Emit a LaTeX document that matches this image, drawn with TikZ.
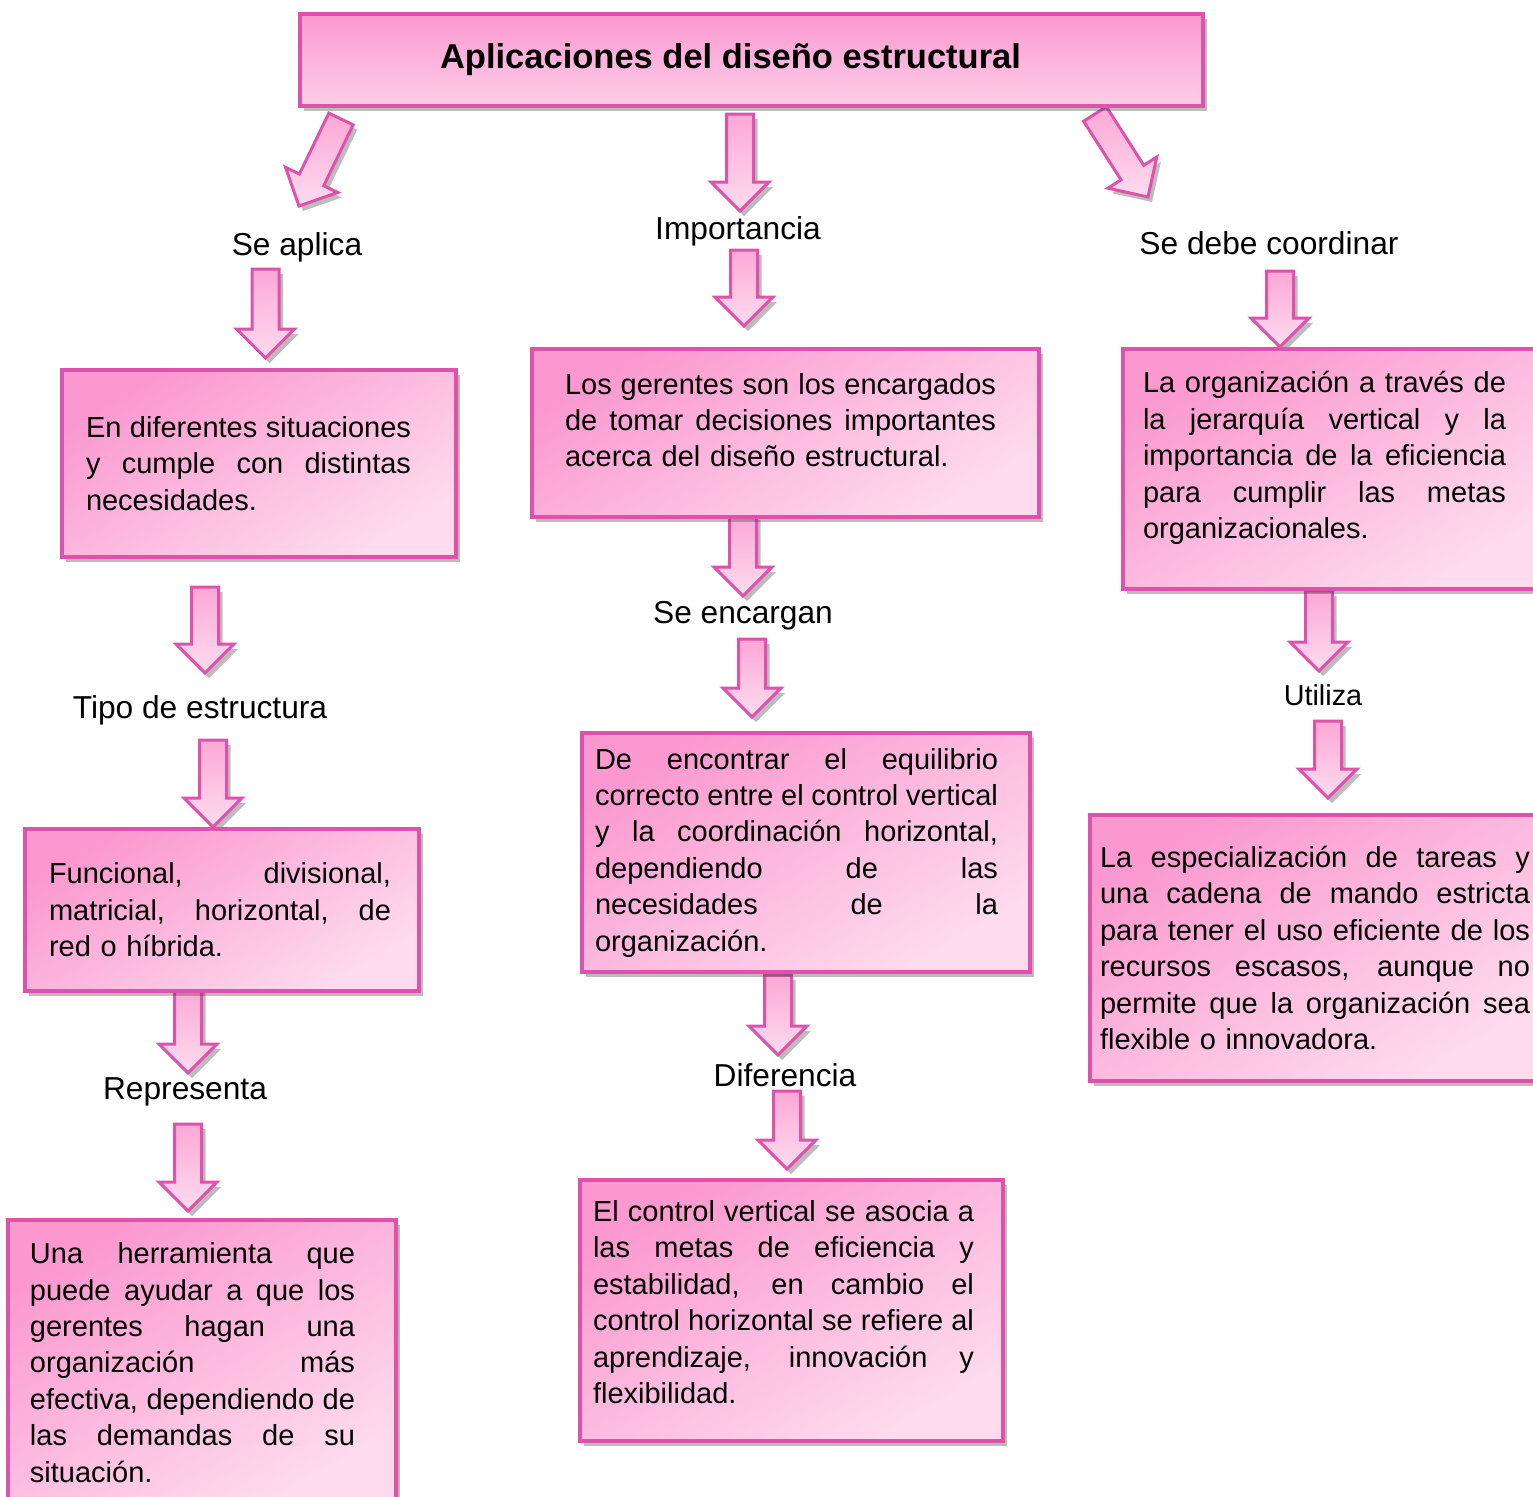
\documentclass[tikz,border=0pt]{standalone}
\usepackage{fontspec}
\setmainfont{Liberation Sans}
\usetikzlibrary{calc,shadows}
\definecolor{pinkA}{HTML}{FB98CF}
\definecolor{pinkB}{HTML}{FEDCEE}
\definecolor{bord}{HTML}{DE52AC}
\newcommand{\jl}[2]{\makebox[#1][s]{\spaceskip=0pt\xspaceskip=0pt\relax #2}\\}
\newcommand{\dpt}[1]{\rule[-#1]{0pt}{0pt}}
\newcommand{\barrow}[2]{%
  \coordinate (bB) at ($(#2)!14.5pt!(#1)$);
  \path[blockarrow] ($(#1)!6.75pt!90:(#2)$) -- ($(bB)!6.75pt!90:(#2)$) -- ($(bB)!14.5pt!90:(#2)$) -- (#2) -- ($(bB)!14.5pt!-90:(#2)$) -- ($(bB)!6.75pt!-90:(#2)$) -- ($(#1)!6.75pt!-90:(#2)$) -- cycle;}
\begin{document}
\begin{tikzpicture}[x=0.5pt,y=-0.5pt,
  shadowed/.style={drop shadow={shadow xshift=2pt,shadow yshift=-2.5pt,opacity=0.35,fill=black!75}},
  box/.style={rectangle,draw=bord,line width=1.75pt,top color=pinkA,bottom color=pinkB,shading angle=30,shadowed,
    inner ysep=0pt,align=left,font=\fontsize{14.5pt}{18.2pt}\selectfont},
  blockarrow/.style={draw=bord,line width=1.5pt,line join=miter,top color=pinkA!85!white,bottom color=pinkB,shadowed},
  lbl/.style={inner sep=0pt,font=\fontsize{15.85pt}{19pt}\selectfont},
  titlebox/.style={rectangle,draw=bord,line width=2pt,top color=pinkA,bottom color=pinkB!80!pinkA,shadowed,
    font=\bfseries\fontsize{17.25pt}{20pt}\selectfont}]
\useasboundingbox (0,0) rectangle (1533,1496);

% arrows (drawn first, under boxes)
\coordinate (a1s) at (341,119);   \coordinate (a1e) at (299,206);
\coordinate (a2s) at (740,114);   \coordinate (a2e) at (740,211);
\coordinate (a3s) at (1095,114);  \coordinate (a3e) at (1148,197);
\coordinate (a4s) at (265.5,269); \coordinate (a4e) at (265.5,358);
\coordinate (a5s) at (744,250);   \coordinate (a5e) at (744,326);
\coordinate (a6s) at (1280,271);  \coordinate (a6e) at (1280,347);
\coordinate (a7s) at (205,587);   \coordinate (a7e) at (205,673);
\coordinate (a8s) at (213,740);   \coordinate (a8e) at (213,827);
\coordinate (a9s) at (188,985);   \coordinate (a9e) at (188,1073);
\coordinate (a10s) at (188,1124); \coordinate (a10e) at (188,1211);
\coordinate (a11s) at (743,515);  \coordinate (a11e) at (743,596);
\coordinate (a12s) at (752,639);  \coordinate (a12e) at (752,717);
\coordinate (a13s) at (778,975);  \coordinate (a13e) at (778,1055);
\coordinate (a14s) at (787,1091); \coordinate (a14e) at (787,1169);
\coordinate (a15s) at (1319,591); \coordinate (a15e) at (1319,671);
\coordinate (a16s) at (1328,721); \coordinate (a16e) at (1328,798);
\barrow{a1s}{a1e}\barrow{a2s}{a2e}\barrow{a3s}{a3e}\barrow{a4s}{a4e}
\barrow{a5s}{a5e}\barrow{a6s}{a6e}\barrow{a7s}{a7e}\barrow{a8s}{a8e}
\barrow{a9s}{a9e}\barrow{a10s}{a10e}\barrow{a11s}{a11e}\barrow{a12s}{a12e}
\barrow{a13s}{a13e}\barrow{a14s}{a14e}\barrow{a15s}{a15e}\barrow{a16s}{a16e}

% title
\node[titlebox,minimum width=451.5pt,minimum height=46pt] (title) at (751.5,60)
  {Aplicaciones del diseño estructural\kern21pt};

% boxes
\node[box,minimum width=197pt,minimum height=93.5pt,text width=173pt,inner xsep=12pt] (bA) at (259,463.5)
  {\jl{162.5pt}{En diferentes situaciones}\jl{162.5pt}{y cumple con distintas}necesidades.};

\node[box,minimum width=253.5pt,minimum height=84pt,text width=220.5pt,inner xsep=16.5pt] (bB) at (785.5,433)
  {\jl{215.5pt}{Los gerentes son los encargados}\jl{215.5pt}{de tomar decisiones importantes}acerca del diseño estructural.\dpt{13pt}};

\node[box,minimum width=211pt,minimum height=120pt,text width=191pt,inner xsep=10pt] (bC) at (1334,469)
  {\jl{181.5pt}{La organización a través de}\jl{181.5pt}{la jerarquía vertical y la}\jl{181.5pt}{importancia de la eficiencia}\jl{181.5pt}{para cumplir las metas}organizacionales.\dpt{14pt}};

\node[box,minimum width=197pt,minimum height=81pt,text width=173pt,inner xsep=12pt] (bD) at (222,910)
  {\jl{171pt}{Funcional, divisional,}\jl{171pt}{matricial, horizontal, de}red o híbrida.};

\node[box,minimum width=224pt,minimum height=119.5pt,text width=211pt,inner xsep=6.5pt] (bE) at (806,852.5)
  {\jl{201.5pt}{De encontrar el equilibrio}\jl{201.5pt}{correcto entre el control vertical}\jl{201.5pt}{y la coordinación horizontal,}\jl{201.5pt}{dependiendo de las}\jl{201.5pt}{necesidades de la}organización.};

\node[box,minimum width=227.5pt,minimum height=133pt,text width=217.5pt,inner xsep=5pt] (bF) at (1317.5,948)
  {\jl{215pt}{La especialización de tareas y}\jl{215pt}{una cadena de mando estricta}\jl{215pt}{para tener el uso eficiente de los}\jl{215pt}{recursos escasos, aunque no}\jl{215pt}{permite que la organización sea}flexible o innovadora.};

\node[box,minimum width=194pt,minimum height=142.5pt,text width=172pt,inner xsep=11pt] (bG) at (202,1362.5)
  {\jl{162.5pt}{Una herramienta que}\jl{162.5pt}{puede ayudar a que los}\jl{162.5pt}{gerentes hagan una}\jl{162.5pt}{organización más}\jl{162.5pt}{efectiva, dependiendo de}\jl{162.5pt}{las demandas de su}situación.};

\node[box,minimum width=211.5pt,minimum height=130.5pt,text width=198.5pt,inner xsep=6.5pt] (bH) at (791.5,1310.5)
  {\jl{190.5pt}{El control vertical se asocia a}\jl{190.5pt}{las metas de eficiencia y}\jl{190.5pt}{estabilidad, en cambio el}\jl{190.5pt}{control horizontal se refiere al}\jl{190.5pt}{aprendizaje, innovación y}flexibilidad.\dpt{8.5pt}};

% labels
\node[lbl] (l1) at (297,247) {Se aplica};
\node[lbl] (l2) at (738,231) {Importancia};
\node[lbl] (l3) at (1269,243) {Se debe coordinar};
\node[lbl] (l4) at (200,710) {Tipo de estructura};
\node[lbl] (l5) at (743,616) {Se encargan};
\node[lbl,font=\fontsize{14.4pt}{18pt}\selectfont] (l6) at (1323,695) {Utiliza};
\node[lbl] (l7) at (185,1092) {Representa};
\node[lbl] (l8) at (785,1075) {Diferencia};
\end{tikzpicture}
\end{document}
